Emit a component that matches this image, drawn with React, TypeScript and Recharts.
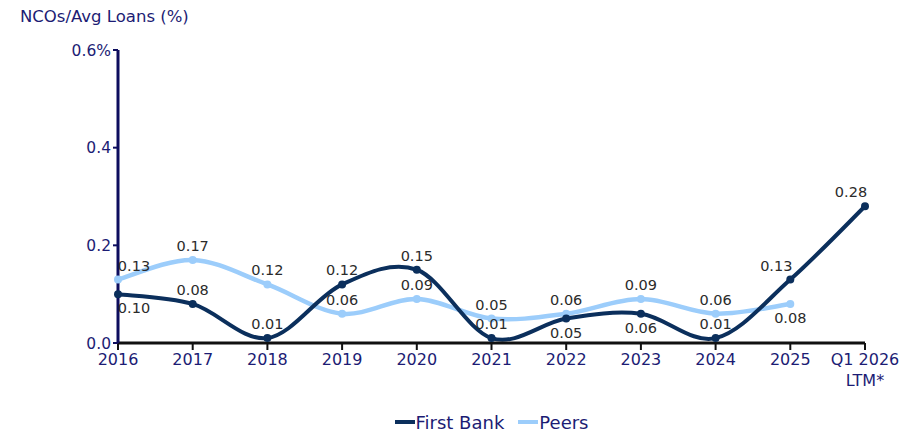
import React from 'react';
import { LineChart, Line, XAxis, YAxis, Legend } from 'recharts';

const categories = ['2016', '2017', '2018', '2019', '2020', '2021', '2022', '2023', '2024', '2025', 'Q1 2026\nLTM*'];
const firstBank = [0.1, 0.08, 0.01, 0.12, 0.15, 0.01, 0.05, 0.06, 0.01, 0.13, 0.28];
const peers = [0.13, 0.17, 0.12, 0.06, 0.09, 0.05, 0.06, 0.09, 0.06, 0.08, null];
const yTicks = [0, 0.2, 0.4, 0.6];

// which labels sit under their point instead of above, and which are nudged sideways
const firstBankBelow = ['2016', '2022', '2023'];
const peersBelow = ['2025'];
const firstBankNudgeLeft = ['2025', 'Q1 2026\nLTM*'];

const FONT = '"DejaVu Sans", sans-serif';
const NAVY = '#1c1c74';
const FB_COLOR = '#0b2f5c';
const PEERS_COLOR = '#9ccdfb';

const data = categories.map((c, i) => ({ name: c, firstBank: firstBank[i], peers: peers[i] }));

// Excel-like smoothed line (Catmull-Rom through the points)
const smoothCurve = (context: any) => {
  let pts: number[][] = [];
  return {
    areaStart() {},
    areaEnd() {},
    lineStart() {
      pts = [];
    },
    point(x: number, y: number) {
      pts.push([+x, +y]);
    },
    lineEnd() {
      const n = pts.length;
      if (!n) return;
      context.moveTo(pts[0][0], pts[0][1]);
      for (let i = 0; i < n - 1; i++) {
        const p0 = pts[Math.max(i - 1, 0)];
        const p1 = pts[i];
        const p2 = pts[i + 1];
        const p3 = pts[Math.min(i + 2, n - 1)];
        context.bezierCurveTo(
          p1[0] + (p2[0] - p0[0]) / 6,
          p1[1] + (p2[1] - p0[1]) / 6,
          p2[0] - (p3[0] - p1[0]) / 6,
          p2[1] - (p3[1] - p1[1]) / 6,
          p2[0],
          p2[1]
        );
      }
    },
  };
};

const makeLabel = (below: string[], nudgeLeft: string[]) => (props: any) => {
  const { x, y, value, index } = props;
  if (value == null) return null;
  const cat = categories[index];
  const isBelow = below.includes(cat);
  let dx = 0;
  if (index === 0) dx = 16;
  if (nudgeLeft.includes(cat)) dx = -14;
  return (
    <text
      x={x + dx}
      y={y + (isBelow ? 14 : -14)}
      textAnchor="middle"
      dominantBaseline="central"
      fontFamily={FONT}
      fontSize={14.5}
      fill="#2b2b2b"
    >
      {value.toFixed(2)}
    </text>
  );
};

const XTick = (props: any) => {
  const { x, y, payload } = props;
  const lines = String(payload.value).split('\n');
  return (
    <g transform={`translate(${x},${y})`}>
      <text textAnchor="middle" fontFamily={FONT} fontSize={16} fill={NAVY}>
        {lines.map((l, i) => (
          <tspan key={i} x={0} dy={i === 0 ? 13 : 21}>
            {l}
          </tspan>
        ))}
      </text>
    </g>
  );
};

const legendItems = [
  { name: 'First Bank', color: FB_COLOR },
  { name: 'Peers', color: PEERS_COLOR },
];

const LegendContent = () => (
  <div style={{ height: 45, display: 'flex', justifyContent: 'center', alignItems: 'flex-end' }}>
    {legendItems.map((item, i) => (
      <div key={item.name} style={{ display: 'flex', alignItems: 'center', marginLeft: i ? 14 : 0, height: 22 }}>
        <span style={{ display: 'inline-block', width: 20, height: 4, background: item.color, marginRight: 1 }} />
        <span style={{ fontFamily: FONT, fontSize: 18, color: NAVY }}>{item.name}</span>
      </div>
    ))}
  </div>
);

export default function App() {
  return (
    <div style={{ position: 'absolute', left: 0, top: 0, width: 918, height: 433, background: '#fff' }}>
      <div
        style={{
          position: 'absolute',
          left: 20,
          top: 6,
          fontFamily: FONT,
          fontSize: 16.5,
          color: NAVY,
          lineHeight: '22px',
          zIndex: 2,
        }}
      >
        NCOs/Avg Loans (%)
      </div>
      <LineChart width={918} height={433} data={data} margin={{ top: 50, right: 53, left: 0, bottom: 0 }}>
        <XAxis
          dataKey="name"
          interval={0}
          height={45}
          tick={<XTick />}
          tickSize={7}
          tickMargin={2}
          axisLine={{ stroke: '#111', strokeWidth: 3 }}
          tickLine={{ stroke: '#111', strokeWidth: 2 }}
        />
        <YAxis
          width={118}
          domain={[0, 0.6]}
          ticks={yTicks}
          tickFormatter={(v: number) => (v === 0.6 ? '0.6%' : v.toFixed(1))}
          tick={{ fontFamily: FONT, fontSize: 15.5, fill: NAVY }}
          tickSize={5}
          tickMargin={2}
          axisLine={{ stroke: '#0d0d5e', strokeWidth: 3 }}
          tickLine={{ stroke: '#0d0d5e', strokeWidth: 2 }}
        />
        <Legend
          verticalAlign="bottom"
          content={<LegendContent />}
          wrapperStyle={{ left: 118, width: 747, bottom: 0 }}
        />
        <Line
          dataKey="peers"
          name="Peers"
          type={smoothCurve as any}
          stroke={PEERS_COLOR}
          strokeWidth={4.5}
          dot={{ r: 4, fill: PEERS_COLOR, stroke: 'none' }}
          activeDot={false}
          label={makeLabel(peersBelow, [])}
          isAnimationActive={false}
        />
        <Line
          dataKey="firstBank"
          name="First Bank"
          type={smoothCurve as any}
          stroke={FB_COLOR}
          strokeWidth={4}
          dot={{ r: 4, fill: FB_COLOR, stroke: 'none' }}
          activeDot={false}
          label={makeLabel(firstBankBelow, firstBankNudgeLeft)}
          isAnimationActive={false}
        />
      </LineChart>
    </div>
  );
}
